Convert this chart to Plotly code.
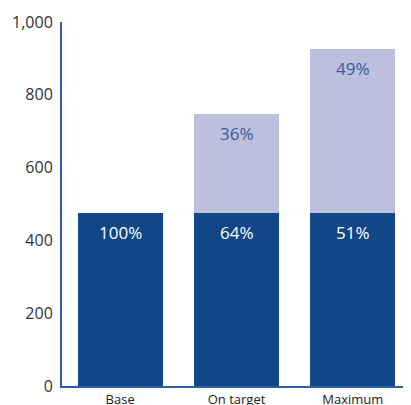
import plotly.graph_objects as go

categories = ["Base", "On target", "Maximum"]
fixed_values = [475, 475, 475]
variable_values = [0, 272, 451]
fixed_labels = ["100%", "64%", "51%"]
variable_labels = ["", "36%", "49%"]
y_ticks = [0, 200, 400, 600, 800, 1000]

DARK = "#114687"
LIGHT = "#bdc0dd"
AXIS = "#2f5fa8"
FONT = "Open Sans, Noto Sans, sans-serif"

fig = go.Figure()
fig.add_trace(go.Bar(x=categories, y=fixed_values, marker=dict(color=DARK, line=dict(width=0)),
                     hoverinfo="skip"))
fig.add_trace(go.Bar(x=categories, y=variable_values, marker=dict(color=LIGHT, line=dict(width=0)),
                     hoverinfo="skip"))

annotations = []
for c, f, v, fl, vl in zip(categories, fixed_values, variable_values, fixed_labels, variable_labels):
    annotations.append(dict(x=c, y=f, text=fl, showarrow=False, yanchor="top", yshift=-6,
                            font=dict(color="white", size=17, family=FONT)))
    if vl:
        annotations.append(dict(x=c, y=f + v, text=vl, showarrow=False, yanchor="top", yshift=-6,
                                font=dict(color="#3a5b9c", size=17, family=FONT)))

fig.update_layout(
    barmode="stack",
    bargap=0.27,
    width=411, height=405,
    margin=dict(l=54, r=8, t=14, b=27),
    paper_bgcolor="white", plot_bgcolor="white",
    showlegend=False,
    annotations=annotations,
    font=dict(family=FONT),
)
fig.update_xaxes(showline=True, linecolor=AXIS, linewidth=2, ticks="", showgrid=False, automargin=False,
                 tickfont=dict(size=13, color="#222222", family=FONT), range=[-0.5, 2.5],
                 ticklabelstandoff=0)
fig.update_yaxes(showline=True, linecolor=AXIS, linewidth=2, ticks="", showgrid=False, zeroline=False,
                 automargin=False,
                 range=[0, 1000], tickvals=y_ticks, tickformat=",",
                 tickfont=dict(size=16, color="#333333", family=FONT), ticklabelstandoff=4)

fig.write_html("out.html")
